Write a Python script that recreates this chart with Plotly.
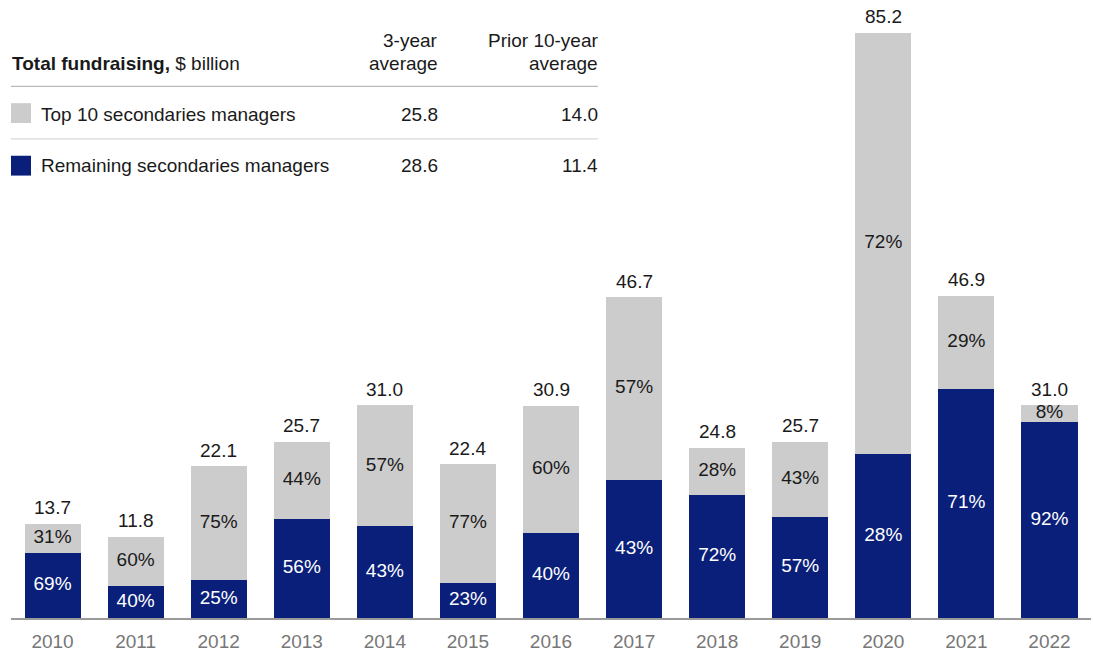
import plotly.graph_objects as go

years = ["2010", "2011", "2012", "2013", "2014", "2015", "2016", "2017", "2018", "2019", "2020", "2021", "2022"]
totals = [13.7, 11.8, 22.1, 25.7, 31.0, 22.4, 30.9, 46.7, 24.8, 25.7, 85.2, 46.9, 31.0]
remaining_pct = [69, 40, 25, 56, 43, 23, 40, 43, 72, 57, 28, 71, 92]
top10_pct = [31, 60, 75, 44, 57, 77, 60, 57, 28, 43, 72, 29, 8]

series_names = ["Top 10 secondaries managers", "Remaining secondaries managers"]
avg_3yr = ["25.8", "28.6"]
avg_prior10 = ["14.0", "11.4"]

NAVY = "#0a1f7a"
GRAY = "#cccccc"
FONT = "Liberation Sans, Arial, sans-serif"
TXT = "#1a1a1a"

remaining_vals = [t * p / 100 for t, p in zip(totals, remaining_pct)]
top10_vals = [t - r for t, r in zip(totals, remaining_vals)]

W, H = 1093, 652
ml, mr, mt, mb = 11, 2, 0, 29
pw, ph = W - ml - mr, H - mt - mb


def X(px):
    return (px - ml) / pw


def Y(py):
    return (H - mb - py) / ph


fig = go.Figure()
fig.add_trace(go.Bar(x=years, y=remaining_vals, marker=dict(color=NAVY, line=dict(width=0)),
                     name=series_names[1], hoverinfo="skip"))
fig.add_trace(go.Bar(x=years, y=top10_vals, marker=dict(color=GRAY, line=dict(width=0)),
                     name=series_names[0], hoverinfo="skip"))

# percentage labels
fig.add_trace(go.Scatter(x=years, y=[r / 2 for r in remaining_vals], mode="text",
                         text=[f"{p}%" for p in remaining_pct], textposition="middle center",
                         textfont=dict(family=FONT, size=19, color="white"), hoverinfo="skip",
                         cliponaxis=False))
fig.add_trace(go.Scatter(x=years, y=[r + g / 2 for r, g in zip(remaining_vals, top10_vals)], mode="text",
                         text=[f"{p}%" for p in top10_pct], textposition="middle center",
                         textfont=dict(family=FONT, size=19, color=TXT), hoverinfo="skip",
                         cliponaxis=False))

annotations = []
for i, t in enumerate(totals):
    annotations.append(dict(x=i, y=t, xref="x", yref="y", text=f"{t:.1f}", showarrow=False,
                            font=dict(family=FONT, size=19, color=TXT), yanchor="middle", yshift=16))


def txt(px, py, text, anchor="left", color=TXT):
    annotations.append(dict(x=X(px), y=Y(py), xref="paper", yref="paper", text=text, showarrow=False,
                            xanchor=anchor, yanchor="middle", font=dict(family=FONT, size=19, color=color)))


txt(10, 64, "<b>Total fundraising,</b> $ billion")
txt(440, 41, "3-year", "right")
txt(440, 64, "average", "right")
txt(600, 41, "Prior 10-year", "right")
txt(600, 64, "average", "right")
row_y = [115, 167]
for i, ry in enumerate(row_y):
    txt(39, ry, series_names[i])
    txt(440, ry, avg_3yr[i], "right")
    txt(600, ry, avg_prior10[i], "right")

shapes = [
    dict(type="line", xref="paper", yref="paper", x0=X(11), x1=X(598), y0=Y(87), y1=Y(87),
         line=dict(color="#a8a8a8", width=1)),
    dict(type="line", xref="paper", yref="paper", x0=X(11), x1=X(598), y0=Y(140), y1=Y(140),
         line=dict(color="#d0d0d0", width=1)),
    dict(type="rect", xref="paper", yref="paper", x0=X(11), x1=X(31), y0=Y(124), y1=Y(104),
         fillcolor=GRAY, line=dict(width=0)),
    dict(type="rect", xref="paper", yref="paper", x0=X(11), x1=X(31), y0=Y(177), y1=Y(157),
         fillcolor=NAVY, line=dict(width=0)),
]

fig.update_layout(
    width=W, height=H,
    margin=dict(l=ml, r=mr, t=mt, b=mb),
    barmode="stack", bargap=0.325,
    showlegend=False,
    plot_bgcolor="white", paper_bgcolor="white",
    annotations=annotations, shapes=shapes,
    xaxis=dict(type="category", showgrid=False, showline=True, linecolor="#9a9a9a", linewidth=1.5,
               ticks="outside", ticklen=5, tickcolor="rgba(0,0,0,0)",
               tickfont=dict(family=FONT, size=19, color="#777777"), range=[-0.5, 12.5]),
    yaxis=dict(visible=True, showticklabels=False, ticks="", showline=False,
               range=[0, 90.0], showgrid=False, zeroline=False),
)

fig.write_html("out.html", config={"displayModeBar": False},
               post_script="document.body.style.margin='0';document.body.style.overflow='hidden';")
